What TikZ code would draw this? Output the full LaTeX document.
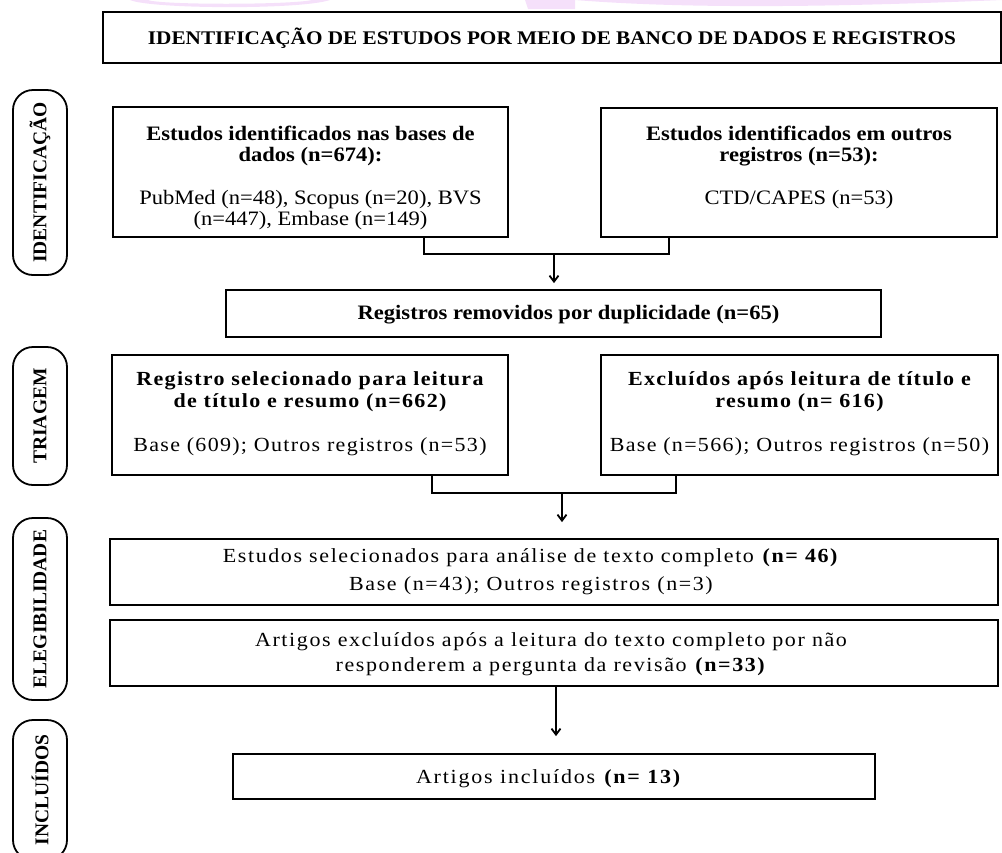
\documentclass[tikz,border=0pt]{standalone}
\usepackage{fontspec}
\setmainfont{Liberation Serif}[FakeStretch=1.1]
\newfontfamily\pillfont{Liberation Serif}
\newfontfamily\spcfont{Liberation Serif}[LetterSpace=6.5,FakeStretch=1.1]
\newfontfamily\spcFfont{Liberation Serif}[LetterSpace=8,FakeStretch=1.1]
\newfontfamily\spcHfont{Liberation Serif}[LetterSpace=9,FakeStretch=1.1]
\usetikzlibrary{arrows.meta,calc}
\newcommand\bx[3]{\begin{minipage}[c][#2][t]{#1}\lineskiplimit=-50pt\relax #3\end{minipage}}
\newcommand\li[1]{\makebox[\linewidth]{#1}\par}
\definecolor{wmcol}{rgb}{0.96,0.88,0.98}
\tikzset{
  box/.style={draw, line width=1.8pt, inner sep=0pt, fill=white},
  pill/.style={draw, line width=1.8pt, rounded corners=20pt, rotate=90, minimum height=54pt, inner sep=0pt, font=\pillfont\fontsize{19.5}{19.5}\selectfont\bfseries},
  conn/.style={line width=1.8pt},
  arr/.style={line width=1.8pt, -{Straight Barb[length=6pt,width=9pt]}},
}
\begin{document}
\begin{tikzpicture}[x=1pt,y=-1pt]
\useasboundingbox (0,0) rectangle (1002,852);
% faint watermark remnant at the top edge
\fill[wmcol] (130,0) .. controls (150,9) and (300,10) .. (330,0) -- (312,0) .. controls (290,5) and (160,5) .. (148,0) -- cycle;
\fill[wmcol] (525,0) -- (575,0) -- (575,9) -- (528,9) -- cycle;
\fill[wmcol] (575,0) .. controls (700,10) and (860,6) .. (1002,0) -- cycle;
% title
\node[box] (title) at (552,37.5) {\bx{898pt}{51pt}{\fontsize{19.3}{20}\selectfont\bfseries
  \li{\rule{0pt}{32pt}IDENTIFICAÇÃO DE ESTUDOS POR MEIO DE BANCO DE DADOS E REGISTROS}}};
% phase pills
\node[pill, minimum width=185pt] (p1) at (40,182.5) {IDENTIFICAÇÃO};
\node[pill, minimum width=138pt] (p2) at (40,416) {TRIAGEM};
\node[pill, minimum width=182pt] (p3) at (40,609) {ELEGIBILIDADE};
\node[pill, minimum width=140pt] (p4) at (40,790) {INCLUÍDOS};
% identification
\node[box] (A) at (310.5,172) {\bx{395pt}{130pt}{\fontsize{20.5}{21}\selectfont
  \li{\rule{0pt}{33pt}\bfseries Estudos identificados nas bases de}
  \li{\bfseries dados (n=674):}
  \vspace{22pt}
  \li{PubMed (n=48), Scopus (n=20), BVS}
  \li{(n=447), Embase (n=149)}}};
\node[box] (B) at (799,172.5) {\bx{396pt}{129pt}{\fontsize{20.5}{21}\selectfont
  \li{\rule{0pt}{32pt}\bfseries Estudos identificados em outros}
  \li{\bfseries registros (n=53):}
  \vspace{22pt}
  \li{CTD/CAPES (n=53)}}};
\node[box] (C) at (553.5,313.5) {\bx{655pt}{47pt}{\fontsize{20.5}{21}\selectfont\bfseries
  \li{\hspace{30pt}\rule{0pt}{29pt}Registros removidos por duplicidade (n=65)}}};
% screening
\node[box] (D) at (310,415) {\bx{396pt}{120pt}{\fontsize{20}{22}\selectfont\spcfont
  \li{\rule{0pt}{30pt}\bfseries Registro selecionado para leitura}
  \li{\bfseries de título e resumo (n=662)}
  \vspace{22pt}
  \li{Base (609); Outros registros (n=53)}}};
\node[box] (E) at (799.5,415) {\bx{397pt}{120pt}{\fontsize{20}{22}\selectfont\spcfont
  \li{\rule{0pt}{30pt}\bfseries Excluídos após leitura de título e}
  \li{\bfseries resumo (n= 616)}
  \vspace{22pt}
  \li{Base (n=566); Outros registros (n=50)}}};
% eligibility
\node[box] (F) at (554,572) {\bx{888pt}{66pt}{\fontsize{20}{28}\selectfont\spcFfont
  \li{\hspace{-46pt}\rule{0pt}{23pt}Estudos selecionados para análise de texto completo \textbf{(n= 46)}}
  \li{\hspace{-46pt}Base (n=43); Outros registros (n=3)}}};
\node[box] (G) at (554,653) {\bx{888pt}{66pt}{\fontsize{20}{25}\selectfont\spcFfont
  \li{\hspace{-6pt}\rule{0pt}{26pt}Artigos excluídos após a leitura do texto completo por não}
  \li{\hspace{-6pt}responderem a pergunta da revisão \textbf{(n=33)}}}};
% included
\node[box] (H) at (554,776.5) {\bx{642pt}{45pt}{\fontsize{20}{22}\selectfont\spcHfont
  \li{\hspace{-10pt}\rule{0pt}{29pt}Artigos incluídos \textbf{(n= 13)}}}};
% connectors
\coordinate (ja) at (424,254);
\coordinate (jb) at (669,254);
\coordinate (j1) at (554,254);
\draw[conn] (ja |- A.south) -- (ja) -- (jb) -- (jb |- B.south);
\draw[arr, shorten >=6pt] (j1) -- (j1 |- C.north);
\coordinate (jd) at (432,493);
\coordinate (je) at (676,493);
\coordinate (j2) at (562,493);
\draw[conn] (jd |- D.south) -- (jd) -- (je) -- (je |- E.south);
\draw[arr, shorten >=16pt] (j2) -- (j2 |- F.north);
\coordinate (j3) at (556,700);
\draw[arr, shorten >=17pt] (j3 |- G.south) -- (j3 |- H.north);
\end{tikzpicture}
\end{document}
